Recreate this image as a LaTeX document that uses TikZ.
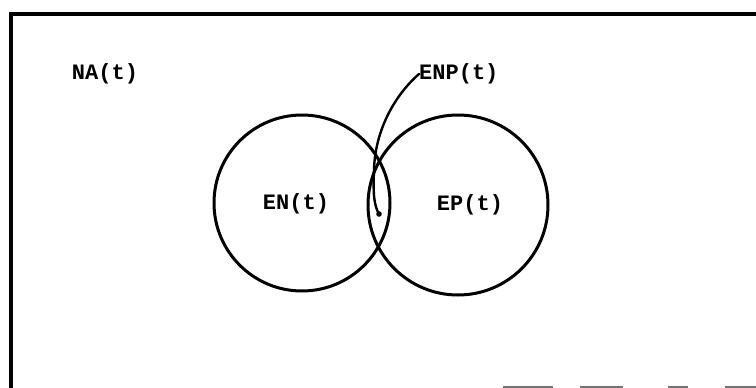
\documentclass[tikz,border=0pt]{standalone}
\usepackage{fontspec}
\setmonofont{Liberation Mono}
\begin{document}
\begin{tikzpicture}[x=1pt,y=-1pt,
  lab/.style={font=\ttfamily\bfseries\fontsize{22}{22}\selectfont, inner sep=0pt},
  ln/.style={line width=3pt, line cap=round, line join=round},
  edgegray/.style={line width=2pt, draw=black!55}]
\useasboundingbox (0,0) rectangle (756,388);
\begin{scope}
\clip (0,0) rectangle (756,388);
\draw[line width=3.5pt] (11,400) -- (11,14) -- (770,14);
\end{scope}
\draw[edgegray] (503,387) -- (553,387);
\draw[edgegray] (580,387) -- (623,387);
\draw[edgegray] (668,387) -- (688,387);
\draw[edgegray] (725,387) -- (756,387);
\node[ln, draw, circle, minimum size=176pt, inner sep=0pt] (en) at (302,203) {};
\node[ln, draw, circle, minimum size=180pt, inner sep=0pt] (ep) at (458,205) {};
\node[lab] (na) at (105,74) {NA(t)};
\node[lab] (enl) at (296,204) {EN(t)};
\node[lab] (epl) at (470,205) {EP(t)};
\node[lab, anchor=west] (enp) at (419,74) {ENP(t)};
\coordinate (tip) at (379,214);
\draw[line width=2.4pt, line cap=round] (enp.west) .. controls (395,95) and (375,130) .. (374,170) .. controls (373,195) and (374,205) .. (tip);
\fill (tip) circle (2.8pt);
\end{tikzpicture}
\end{document}
